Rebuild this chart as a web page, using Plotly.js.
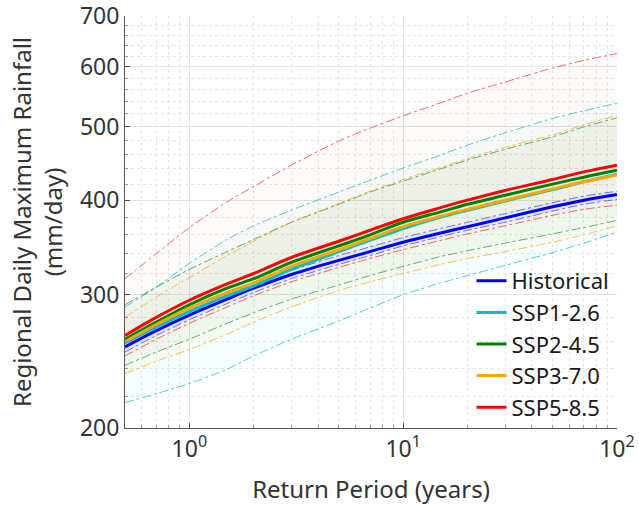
<!DOCTYPE html>
<html>
<head>
<meta charset="utf-8">
<script src="https://cdn.plot.ly/plotly-3.0.1.min.js"></script>
<style>html,body{margin:0;padding:0;background:#fff;}#chart{width:639px;height:515px;}</style>
</head>
<body>
<div id="chart"></div>
<script>
// Return periods (years)
const returnPeriod = [0.5, 0.7, 1, 1.5, 2, 3, 5, 7, 10, 15, 20, 30, 50, 70, 100];

// Central estimates (mm/day)
const historical = [256, 269, 282, 296, 306, 319, 333, 342, 352, 362, 369, 379, 392, 400, 407];
const ssp126 = [259, 272, 285, 299, 308, 324, 342, 354, 367, 380, 388, 399, 413, 423, 433];
const ssp245 = [262, 276, 291, 306, 315, 331, 348, 360, 374, 386, 395, 406, 420, 429, 438];
const ssp370 = [260, 274, 288, 302, 311, 327, 344, 356, 369, 381, 389, 400, 414, 423, 432];
const ssp585 = [265, 280, 295, 310, 320, 336, 353, 365, 378, 391, 400, 412, 426, 436, 445];

// Uncertainty bounds (mm/day)
const historicalUpper = [260, 273, 286, 300, 310, 323, 338, 347, 357, 367, 374, 384, 397, 405, 411];
const historicalLower = [252, 265, 278, 292, 302, 315, 329, 338, 348, 358, 365, 374, 387, 395, 401];
const ssp126Upper = [289, 307, 330, 355, 370, 388, 410, 425, 441, 459, 473, 491, 513, 525, 537];
const ssp126Lower = [216, 222, 229, 239, 249, 262, 277, 288, 300, 311, 318, 328, 341, 351, 363];
const ssp245Upper = [291, 307, 324, 342, 355, 374, 395, 410, 424, 440, 452, 467, 485, 500, 514];
const ssp245Lower = [242, 252, 262, 275, 284, 296, 309, 318, 327, 337, 343, 351, 361, 368, 376];
const ssp370Upper = [280, 298, 316, 338, 353, 374, 396, 411, 426, 442, 454, 470, 488, 503, 518];
const ssp370Lower = [236, 245, 254, 266, 276, 289, 304, 312, 320, 329, 335, 342, 352, 360, 370];
const ssp585Upper = [315, 340, 368, 398, 417, 445, 479, 498, 517, 538, 554, 573, 598, 612, 625];
const ssp585Lower = [249, 262, 275, 289, 299, 312, 326, 335, 344, 354, 361, 370, 382, 389, 394];

const names = ['Historical', 'SSP1-2.6', 'SSP2-4.5', 'SSP3-7.0', 'SSP5-8.5'];
const colors = ['#0000ff', '#00bfbf', '#008000', '#ffa500', '#ff0000'];
const bandColors = ['rgba(0,0,255,0.04)', 'rgba(0,191,191,0.035)', 'rgba(0,128,0,0.03)', 'rgba(255,165,0,0.03)', 'rgba(255,0,0,0.02)'];
const dashColors = ['rgba(0,0,255,0.55)', 'rgba(0,191,191,0.7)', 'rgba(0,128,0,0.6)', 'rgba(255,165,0,0.7)', 'rgba(255,0,0,0.6)'];
const centrals = [historical, ssp126, ssp245, ssp370, ssp585];
const uppers = [historicalUpper, ssp126Upper, ssp245Upper, ssp370Upper, ssp585Upper];
const lowers = [historicalLower, ssp126Lower, ssp245Lower, ssp370Lower, ssp585Lower];

const xTickVals = [1, 10, 100];
const xTickText = ['10<sup>0</sup>', '10<sup>1</sup>', '10<sup>2</sup>'];
const xMinor = [0.5, 0.6, 0.7, 0.8, 0.9, 2, 3, 4, 5, 6, 7, 8, 9, 20, 30, 40, 50, 60, 70, 80, 90];
const yTickVals = [200, 300, 400, 500, 600, 700];
const yMinor = [220, 240, 260, 280, 320, 340, 360, 380, 420, 440, 460, 480, 520, 540, 560, 580, 620, 640, 660, 680];

const traces = [];
for (let i = 0; i < 5; i++) {
  traces.push({
    x: returnPeriod, y: lowers[i], type: 'scatter', mode: 'lines',
    line: {color: dashColors[i], width: 1, dash: 'dashdot', shape: 'spline', smoothing: 0.6},
    showlegend: false, hoverinfo: 'skip'
  });
  traces.push({
    x: returnPeriod, y: uppers[i], type: 'scatter', mode: 'lines',
    line: {color: dashColors[i], width: 1, dash: 'dashdot', shape: 'spline', smoothing: 0.6},
    fill: 'tonexty', fillcolor: bandColors[i],
    showlegend: false, hoverinfo: 'skip'
  });
}
for (let i = 0; i < 5; i++) {
  traces.push({
    x: returnPeriod, y: centrals[i], type: 'scatter', mode: 'lines',
    name: names[i], line: {color: colors[i], width: 3, shape: 'spline'}
  });
}

const fontFam = 'Noto Sans, Open Sans, sans-serif';
const eps = 0.0003;
const layout = {
  width: 639, height: 515,
  margin: {l: 125, r: 22, t: 16, b: 87},
  paper_bgcolor: '#ffffff', plot_bgcolor: '#ffffff',
  font: {family: fontFam, color: '#333333', size: 24},
  xaxis: {
    type: 'log', range: [Math.log10(0.5), 2 + eps],
    tickmode: 'array', tickvals: xTickVals, ticktext: xTickText,
    tickfont: {size: 23, color: '#333333'}, ticklabeloverflow: 'allow',
    showgrid: true, gridcolor: '#e3e3e3', gridwidth: 1,
    ticks: 'inside', ticklen: 5, tickcolor: '#555555',
    showline: true, linecolor: '#555555', linewidth: 1,
    zeroline: false,
    minor: {tickmode: 'array', tickvals: xMinor, showgrid: true, gridcolor: '#e6e6e6', griddash: 'dot', ticks: 'inside', ticklen: 3, tickcolor: '#999999'},
    title: {text: 'Return Period (years)', font: {size: 24, color: '#333333'}, standoff: 18}
  },
  yaxis: {
    type: 'log', range: [Math.log10(200), Math.log10(700) + eps],
    tickmode: 'array', tickvals: yTickVals, ticktext: yTickVals.map(String),
    tickfont: {size: 23, color: '#333333'}, ticklabeloverflow: 'allow',
    showgrid: true, gridcolor: '#e3e3e3', gridwidth: 1,
    ticks: 'inside', ticklen: 5, tickcolor: '#555555',
    showline: true, linecolor: '#555555', linewidth: 1,
    zeroline: false,
    minor: {tickmode: 'array', tickvals: yMinor, showgrid: true, gridcolor: '#e6e6e6', griddash: 'dot', ticks: 'inside', ticklen: 3, tickcolor: '#999999'},
    title: {text: 'Regional Daily Maximum Rainfall<br>(mm/day)', font: {size: 24, color: '#333333'}, standoff: 10}
  },
  legend: {
    x: 0.995, y: 0.0, xanchor: 'right', yanchor: 'bottom', traceorder: 'normal',
    bgcolor: 'rgba(255,255,255,0)', borderwidth: 0,
    font: {size: 22, color: '#1a1a1a'}, tracegroupgap: 0, itemwidth: 30
  },
  showlegend: true
};

Plotly.newPlot('chart', traces, layout, {displayModeBar: false, staticPlot: true});
</script>
</body>
</html>
